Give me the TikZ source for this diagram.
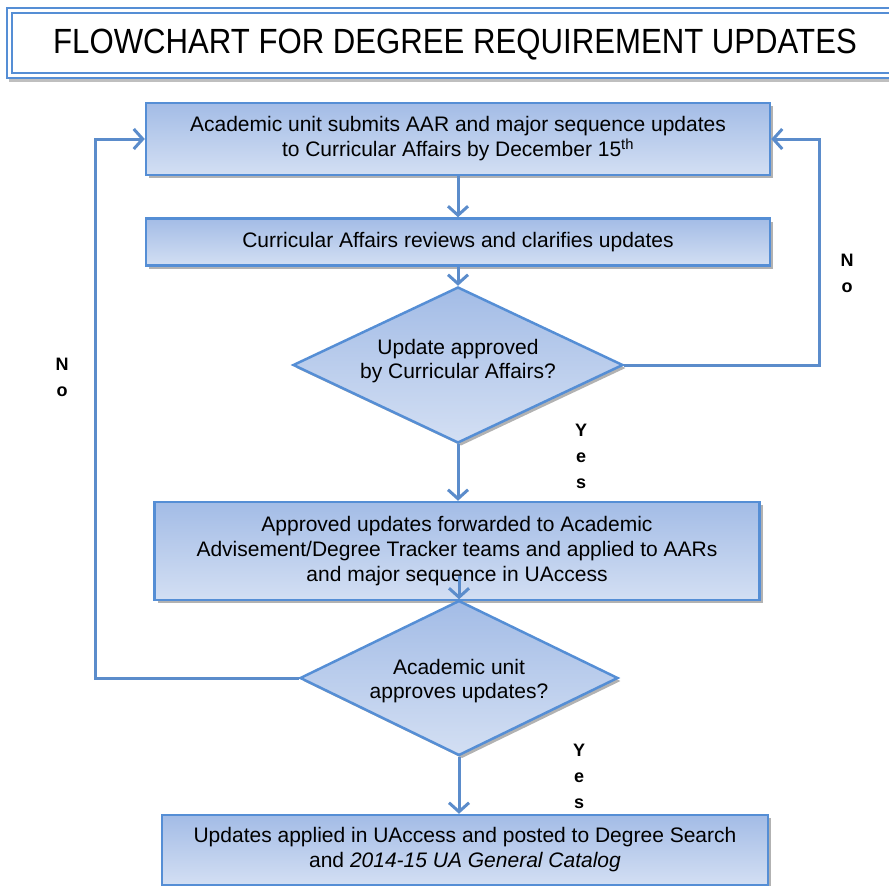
\documentclass[tikz,border=0pt]{standalone}
\usepackage{fontspec}
\setmainfont{Liberation Sans}
\usetikzlibrary{shapes.geometric,arrows.meta,shadows}
\definecolor{bord}{HTML}{558ED5}
\definecolor{connc}{HTML}{5B8CCB}
\definecolor{ftop}{HTML}{A3BCE6}
\definecolor{fbot}{HTML}{D3DFF3}
\begin{document}
\begin{tikzpicture}[x=1pt,y=-1pt,
  box/.style={draw=bord, line width=2.5pt, top color=ftop, bottom color=fbot, rectangle, inner sep=0pt, align=center,
    font=\fontsize{21}{25}\selectfont,
    drop shadow={shadow xshift=3pt, shadow yshift=-3pt, fill=black, opacity=0.3}},
  dec/.style={box, diamond},
  dtext/.style={align=center, font=\fontsize{21}{24}\selectfont},
  conn/.style={draw=connc, line width=3pt, -{Straight Barb[length=9pt,width=20pt]}},
  lbl/.style={font=\bfseries\fontsize{18}{26}\selectfont, align=center}]
\useasboundingbox (0,0) rectangle (889,886);
\clip (0,0) rectangle (889,886);
% title
\draw[bord, line width=2pt, fill=white, drop shadow={shadow xshift=2pt, shadow yshift=-4pt, fill=black, opacity=0.25}] (7,8) rectangle (905,78);
\draw[bord, line width=1.5pt] (12,13) rectangle (900,73);
\node (title) at (455,45) {\scalebox{0.89}[1]{\fontsize{35}{36}\selectfont FLOWCHART FOR DEGREE REQUIREMENT UPDATES}};
% nodes
\node[box, minimum width=624pt, minimum height=72pt] (b1) at (458,139)
  {Academic unit submits AAR and major sequence updates\\to Curricular Affairs by December 15\textsuperscript{th}};
\node[box, minimum width=624pt, minimum height=47pt] (b2) at (458,242)
  {Curricular Affairs reviews and clarifies updates};
\node[dec, minimum width=330pt, minimum height=156pt] (d1) at (458,365) {};
\node[dtext] (d1t) at ([yshift=4pt]d1.center) {Update approved\\by Curricular Affairs?};
\node[box, minimum width=605pt, minimum height=98pt] (b3) at (457,551)
  {Approved updates forwarded to Academic\\Advisement/Degree Tracker teams and applied to AARs\\and major sequence in UAccess};
\node[dec, minimum width=318pt, minimum height=155pt] (d2) at (459,678) {};
\node[dtext] (d2t) at ([yshift=-3pt]d2.center) {Academic unit\\approves updates?};
\node[box, minimum width=606pt, minimum height=70pt] (b4) at (465,850)
  {Updates applied in UAccess and posted to Degree Search\\and \textit{2014-15 UA General Catalog}};
% connectors
\draw[conn] (b1.south) -- (b2.north);
\draw[conn] (b2.south) -- (d1.north);
\draw[conn] (d1.south) -- (d1.south |- b3.north);
\draw[conn] ([yshift=25pt]d2.north |- b3.south) -- (d2.north);
\draw[conn] (d2.south) -- (d2.south |- b4.north);
\draw[conn] (d1.east) -| ([xshift=48pt]b1.east) -- (b1.east);
\draw[conn] (d2.west) -| ([xshift=-49pt]b1.west) -- (b1.west);
% labels
\node[lbl] (no1) at (847,273) {N\\o};
\node[lbl] (no2) at (62,377) {N\\o};
\node[lbl] (y1) at (581,456) {Y\\e\\s};
\node[lbl] (y2) at (579,776) {Y\\e\\s};
\end{tikzpicture}
\end{document}
